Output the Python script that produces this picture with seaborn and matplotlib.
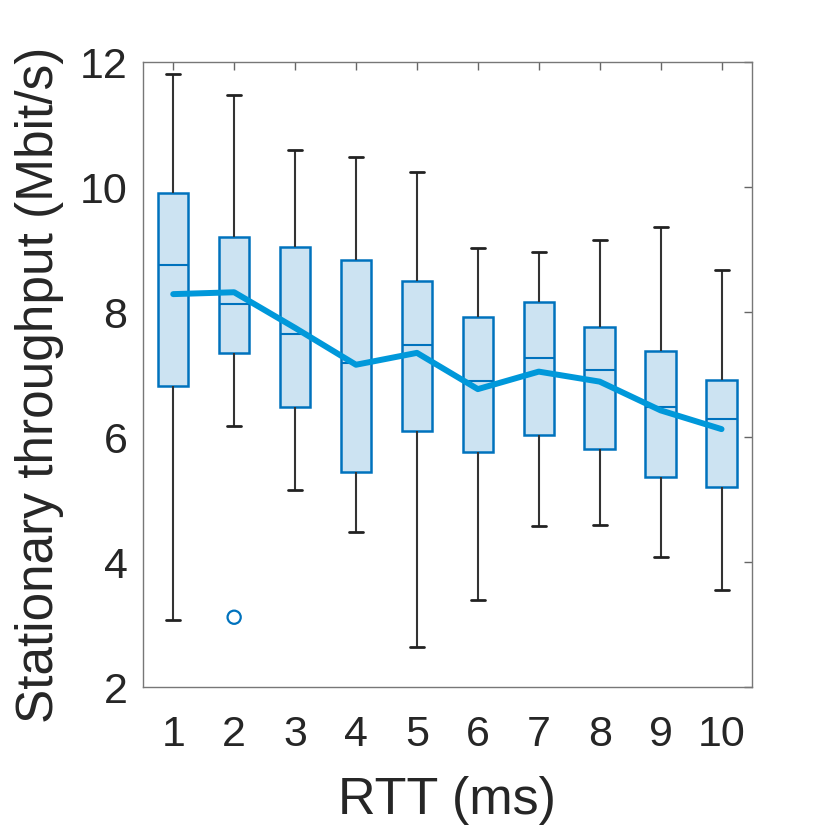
import matplotlib
matplotlib.use('Agg')
import matplotlib.pyplot as plt
import pandas as pd
import seaborn as sns

# Box summaries (Mbit/s) per RTT (ms)
rtt = [1, 2, 3, 4, 5, 6, 7, 8, 9, 10]
whisker_low = [3.07, 6.18, 5.15, 4.48, 2.64, 3.39, 4.58, 4.59, 4.09, 3.56]
q1 = [6.82, 7.34, 6.49, 5.44, 6.10, 5.77, 6.03, 5.81, 5.36, 5.21]
median = [8.75, 8.13, 7.65, 7.19, 7.47, 6.90, 7.26, 7.07, 6.48, 6.29]
q3 = [9.91, 9.20, 9.04, 8.84, 8.50, 7.92, 8.16, 7.77, 7.38, 6.92]
whisker_high = [11.81, 11.48, 10.60, 10.48, 10.25, 9.03, 8.97, 9.15, 9.36, 8.67]
mean = [8.29, 8.32, 7.75, 7.16, 7.35, 6.77, 7.05, 6.89, 6.43, 6.13]
outlier_rtt = [2]
outlier_val = [3.12]

# Long table: five-number summary per RTT, whiskers spanning min..max
rows = []
for i, r in enumerate(rtt):
    for v in (whisker_low[i], q1[i], median[i], q3[i], whisker_high[i]):
        rows.append({'rtt': r, 'thr': v})
df = pd.DataFrame(rows)
df_mean = pd.DataFrame({'rtt': rtt, 'thr': mean})
df_out = pd.DataFrame({'rtt': outlier_rtt, 'thr': outlier_val})

sns.set_style('white')
plt.rcParams['font.family'] = ['Liberation Sans', 'DejaVu Sans']

blue = '#0072BD'
fig = plt.figure(figsize=(8.3, 8.3), dpi=100)
ax = fig.add_axes([0.172, 0.172, 0.734, 0.753])

sns.boxplot(
    data=df, x='rtt', y='thr', native_scale=True,
    whis=(0, 100), width=0.5,
    color='#cce3f2', linecolor=blue, linewidth=1.5,
    whiskerprops=dict(color='#333333', linewidth=1.5),
    capprops=dict(color='#222222', linewidth=2.0),
    medianprops=dict(color=blue, linewidth=1.5),
    boxprops=dict(facecolor='#cce3f2', edgecolor=blue, linewidth=1.8),
    capwidths=0.23,
    ax=ax,
)

sns.lineplot(data=df_mean, x='rtt', y='thr', color='#0098DA',
             linewidth=4.3, ax=ax, zorder=5)

sns.scatterplot(data=df_out, x='rtt', y='thr', marker='o', s=90,
                facecolor='none', edgecolor=blue, linewidth=1.6, ax=ax,
                zorder=6)

ax.set_xlim(0.5, 10.5)
ax.set_ylim(2, 12)
ax.set_xticks(rtt)
ax.set_yticks([2, 4, 6, 8, 10, 12])
ax.tick_params(direction='in', length=6, width=1, colors='#666666',
               labelcolor='#262626', labelsize=31, top=True, right=True)
ax.tick_params(axis='x', pad=20)
ax.tick_params(axis='y', pad=11)
for s in ax.spines.values():
    s.set_visible(True)
    s.set_color('#777777')
    s.set_linewidth(1)

ax.set_xlabel('RTT (ms)', fontsize=37.5, color='#262626')
ax.set_ylabel('Stationary throughput (Mbit/s)', fontsize=37,
              color='#262626')
ax.xaxis.set_label_coords(0.5, -0.142)
ax.yaxis.set_label_coords(-0.13, 0.484)

fig.savefig('out.png', dpi=100)
